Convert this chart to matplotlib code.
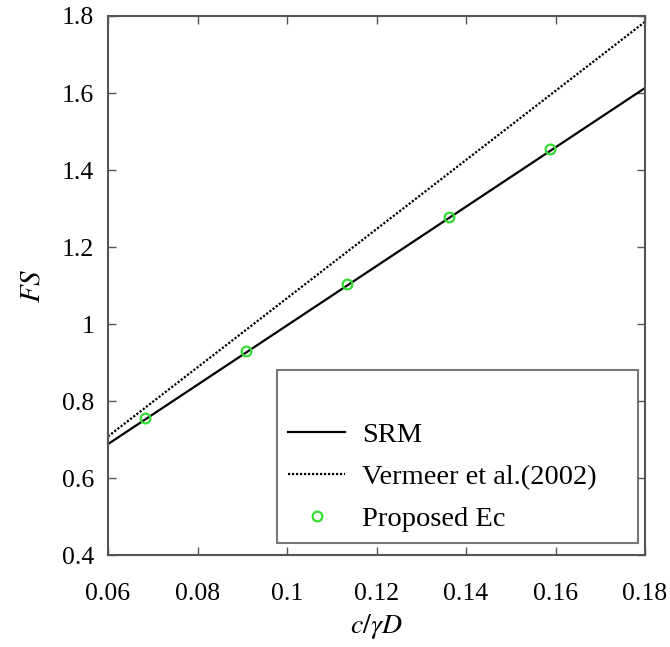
import matplotlib
matplotlib.use("Agg")
import matplotlib.pyplot as plt
from matplotlib.lines import Line2D

# Data
srm_x = [0.06, 0.18]
srm_y = [0.688, 1.613]
vermeer_x = [0.06, 0.18]
vermeer_y = [0.708, 1.785]
proposed_x = [0.0683, 0.0908, 0.1134, 0.1362, 0.1588]
proposed_y = [0.755, 0.930, 1.104, 1.279, 1.455]
xticks = [0.06, 0.08, 0.1, 0.12, 0.14, 0.16, 0.18]
xtick_labels = ["0.06", "0.08", "0.1", "0.12", "0.14", "0.16", "0.18"]
yticks = [0.4, 0.6, 0.8, 1.0, 1.2, 1.4, 1.6, 1.8]
ytick_labels = ["0.4", "0.6", "0.8", "1", "1.2", "1.4", "1.6", "1.8"]

plt.rcParams['font.family'] = ['Liberation Serif', 'DejaVu Serif']
plt.rcParams['mathtext.fontset'] = 'stix'

fig = plt.figure(figsize=(6.70, 6.47), dpi=100)
ax = fig.add_axes([108/670, 1 - 555/647, (645-108)/670, (555-16)/647])

ax.plot(srm_x, srm_y, color='black', lw=1.6, label='SRM')
ax.plot(vermeer_x, vermeer_y, color='black', lw=1.6, linestyle=(0, (1, 0.8)),
        label='Vermeer et al.(2002)')
ax.plot(proposed_x, proposed_y, linestyle='none', marker='o', markersize=7,
        markerfacecolor='none', markeredgecolor='#33dd33', markeredgewidth=1.6,
        label='Proposed Ec')

ax.set_xlim(0.06, 0.18)
ax.set_ylim(0.4, 1.8)
ax.set_xticks(xticks)
ax.set_xticklabels(xtick_labels)
ax.set_yticks(yticks)
ax.set_yticklabels(ytick_labels)
ax.tick_params(direction='in', length=6, width=1, top=True, right=True,
               labelsize=18.5, color='#555555')
ax.tick_params(axis='y', pad=10)
ax.tick_params(axis='x', pad=20)
for s in ax.spines.values():
    s.set_linewidth(1.5)
    s.set_color('#555555')

ax.set_xlabel(r'$c/\gamma D$', fontsize=20, labelpad=5)
ax.set_ylabel(r'$FS$', fontsize=21, labelpad=12)

handles, labels = ax.get_legend_handles_labels()
blank = Line2D([], [], linestyle='none')
x0, x1 = 277/670, 638/670
y0, y1 = 1 - 543/647, 1 - 372/647
leg = ax.legend([blank] + handles, [' '] + labels, loc='lower left', mode='expand',
                bbox_to_anchor=(x0, y0, x1 - x0, y1 - y0), bbox_transform=fig.transFigure,
                prop={'size': 20.5}, frameon=True, fancybox=False, edgecolor='#555555',
                handlelength=2.0, handletextpad=0.6, labelspacing=0.55,
                borderpad=0.4, borderaxespad=0)
leg.get_frame().set_linewidth(1.5)

fig.savefig('out.png', dpi=100, facecolor='white')
